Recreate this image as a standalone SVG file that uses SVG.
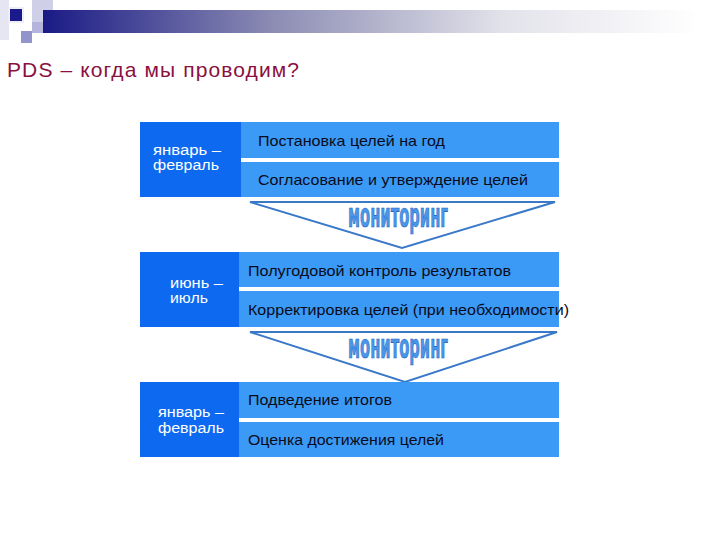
<svg xmlns="http://www.w3.org/2000/svg" width="720" height="540" viewBox="0 0 720 540">
<defs>
<linearGradient id="bar" x1="0" y1="0" x2="1" y2="0">
<stop offset="0" stop-color="#1a1a86"/>
<stop offset="0.35" stop-color="#8c8cb4"/>
<stop offset="0.7" stop-color="#e2e2ea"/>
<stop offset="1" stop-color="#ffffff"/>
</linearGradient>
<style>
.dark{fill:#0d6af0}
.light{fill:#3a9af6}
.sep{fill:#ffffff}
.lbl{font-family:"Liberation Sans",Arial,sans-serif;font-size:14px;fill:#ffffff}
.txt{font-family:"Liberation Sans",Arial,sans-serif;font-size:15px;fill:#0a0a1a}
.chev{fill:#ffffff;stroke:#3a78c8;stroke-width:2;stroke-linejoin:miter}
.mon{font-family:"DejaVu Sans Condensed","Liberation Sans Narrow",sans-serif;font-weight:bold;font-size:34px;fill:#4a96e8;stroke:#1c5cb8;stroke-width:0.7}
</style>
</defs>
<rect width="720" height="540" fill="#ffffff"/>
<g id="header">
<rect x="0" y="0" width="9" height="40" fill="#e6e6f2"/>
<rect x="8" y="7" width="16" height="16" fill="#eeeef8"/>
<rect x="10" y="9" width="12" height="12" fill="#1a1a8c"/>
<rect x="32" y="0" width="21" height="22" fill="#cfcfe8"/>
<rect x="43" y="10" width="657" height="23" fill="url(#bar)"/>
<rect x="32" y="22" width="11" height="11" fill="#b4b4dc"/>
<rect x="21" y="31" width="11" height="12" fill="#9494cc"/>
</g>
<g id="title">
<text x="7" y="77" font-family="&quot;Liberation Sans&quot;,Arial,sans-serif" font-size="21" fill="#8a1040" textLength="292" lengthAdjust="spacing">PDS – когда мы проводим?</text>
</g>
<g id="connectors">
<polygon class="chev" points="250,202 555,202 402,248"/>
<text class="mon" x="398" y="227" text-anchor="middle" textLength="100" lengthAdjust="spacingAndGlyphs">мониторинг</text>
<polygon class="chev" points="250,332 557,332 405,382"/>
<text class="mon" x="398" y="358" text-anchor="middle" textLength="100" lengthAdjust="spacingAndGlyphs">мониторинг</text>
</g>
<g id="block1">
<rect class="dark" x="140" y="122" width="101" height="75"/>
<rect class="light" x="241" y="122" width="318" height="75"/>
<rect class="sep" x="241" y="158" width="318" height="4"/>
<text class="lbl" x="153" y="155" textLength="68" lengthAdjust="spacingAndGlyphs">январь –</text>
<text class="lbl" x="153" y="170" textLength="66" lengthAdjust="spacingAndGlyphs">февраль</text>
<text class="txt" x="258" y="146" textLength="187" lengthAdjust="spacingAndGlyphs">Постановка целей на год</text>
<text class="txt" x="258" y="185" textLength="270" lengthAdjust="spacingAndGlyphs">Согласование и утверждение целей</text>
</g>
<g id="block2">
<rect class="dark" x="140" y="252" width="99" height="75"/>
<rect class="light" x="239" y="252" width="320" height="75"/>
<rect class="sep" x="239" y="287" width="320" height="4"/>
<text class="lbl" x="170" y="288" textLength="53" lengthAdjust="spacingAndGlyphs">июнь –</text>
<text class="lbl" x="170" y="303" textLength="38" lengthAdjust="spacingAndGlyphs">июль</text>
<text class="txt" x="248" y="276" textLength="263" lengthAdjust="spacingAndGlyphs">Полугодовой контроль результатов</text>
<text class="txt" x="248" y="315" textLength="321" lengthAdjust="spacingAndGlyphs">Корректировка целей (при необходимости)</text>
</g>
<g id="block3">
<rect class="dark" x="140" y="382" width="99" height="75"/>
<rect class="light" x="239" y="382" width="320" height="75"/>
<rect class="sep" x="239" y="418" width="320" height="4"/>
<text class="lbl" x="158" y="417" textLength="66" lengthAdjust="spacingAndGlyphs">январь –</text>
<text class="lbl" x="158" y="433" textLength="66" lengthAdjust="spacingAndGlyphs">февраль</text>
<text class="txt" x="248" y="405" textLength="144" lengthAdjust="spacingAndGlyphs">Подведение итогов</text>
<text class="txt" x="248" y="445" textLength="196" lengthAdjust="spacingAndGlyphs">Оценка достижения целей</text>
</g>
</svg>
